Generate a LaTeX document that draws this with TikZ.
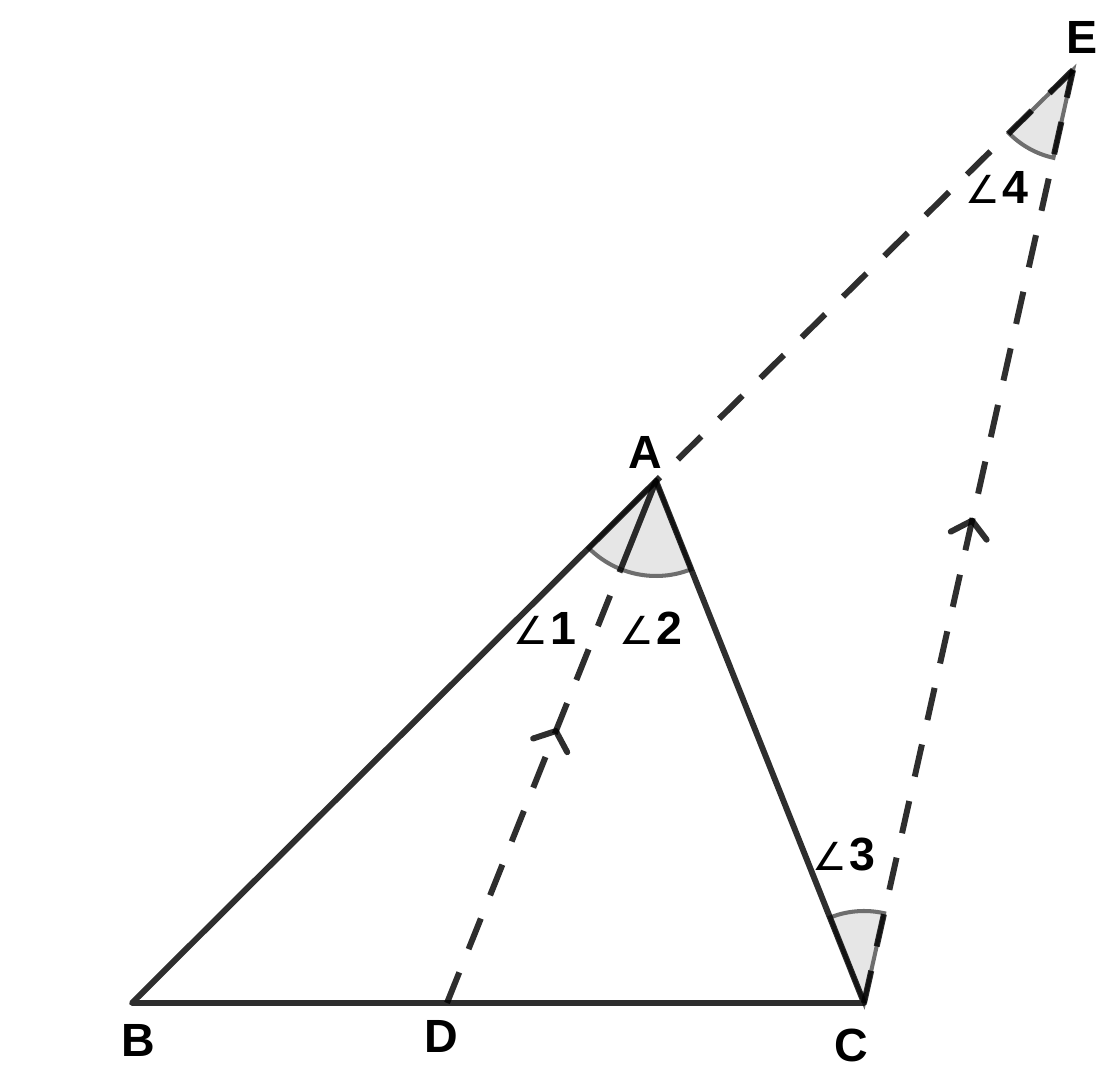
\documentclass[tikz,border=0pt]{standalone}
\usepackage{fontspec}
\setmainfont{Liberation Sans}
\newfontfamily\angfont{DejaVu Sans}
\usetikzlibrary{calc}
\definecolor{ink}{HTML}{2E2E2E}
\definecolor{secfill}{HTML}{E6E6E6}
\definecolor{secedge}{HTML}{6E6E6E}
\newcommand{\angsym}{{\angfont\fontsize{22}{26}\selectfont\mdseries ∠}\kern1pt}
\begin{document}
\begin{tikzpicture}[x=0.02cm,y=0.02cm,
  seg/.style={draw=black,draw opacity=0.82,line width=3.4pt,line cap=butt},
  dashseg/.style={seg,dash pattern=on 0.66cm off 0.5cm},
  chev/.style={draw=black,draw opacity=0.82,line width=3.4pt,line cap=round,line join=round},
  sector/.style={fill=secfill,draw=secedge,line width=2.3pt},
  lbl/.style={font=\fontsize{26.5}{30}\selectfont\bfseries,inner sep=0pt},
  anglbl/.style={font=\fontsize{26.5}{30}\selectfont\bfseries,inner sep=0pt}]
\useasboundingbox (0,0) rectangle (1097,1077);
% points
\coordinate (B) at (132,74);
\coordinate (D) at (447,74);
\coordinate (C) at (864,74);
\coordinate (A) at (656,596);
\coordinate (E) at (1073,1007);
% angle sectors
\filldraw[sector] (A) -- +(224.9:95) arc[start angle=224.9,end angle=291.7,radius=95] -- cycle;
\filldraw[sector] (E) -- +(224.6:90) arc[start angle=224.6,end angle=257.4,radius=90] -- cycle;
\filldraw[sector] (C) -- +(77.4:92) arc[start angle=77.4,end angle=111.7,radius=92] -- cycle;
% triangle
\draw[seg,line join=round] (A) -- (B) -- (C) -- cycle;
% dashed lines
\coordinate (P) at ($(A)!95/562!(D)$);
\draw[dashseg] (D) -- (P);
\draw[seg] (P) -- (A);
\draw[dashseg] (E) -- (A);
\draw[dashseg] (C) -- (E);
% arrow marks
\coordinate (T1) at ($(D)!0.521!(A)$);
\coordinate (T2) at ($(C)!0.517!(E)$);
\draw[chev] ($(T1)!0.48cm!50:(D)$) -- (T1) -- ($(T1)!0.48cm!-50:(D)$);
\draw[chev] ($(T2)!0.48cm!50:(C)$) -- (T2) -- ($(T2)!0.48cm!-50:(C)$);
% labels
\node[lbl] (lA) at (645,625) {A};
\node[lbl] (lB) at (138,37) {B};
\node[lbl] (lC) at (851,32) {C};
\node[lbl] (lD) at (441,41) {D};
\node[lbl] (lE) at (1082,1039) {E};
\node[anglbl] (a1) at (545,449) {\angsym 1};
\node[anglbl] (a2) at (651,449) {\angsym 2};
\node[anglbl] (a3) at (844,222) {\angsym 3};
\node[anglbl] (a4) at (997,889) {\angsym 4};
\end{tikzpicture}
\end{document}
